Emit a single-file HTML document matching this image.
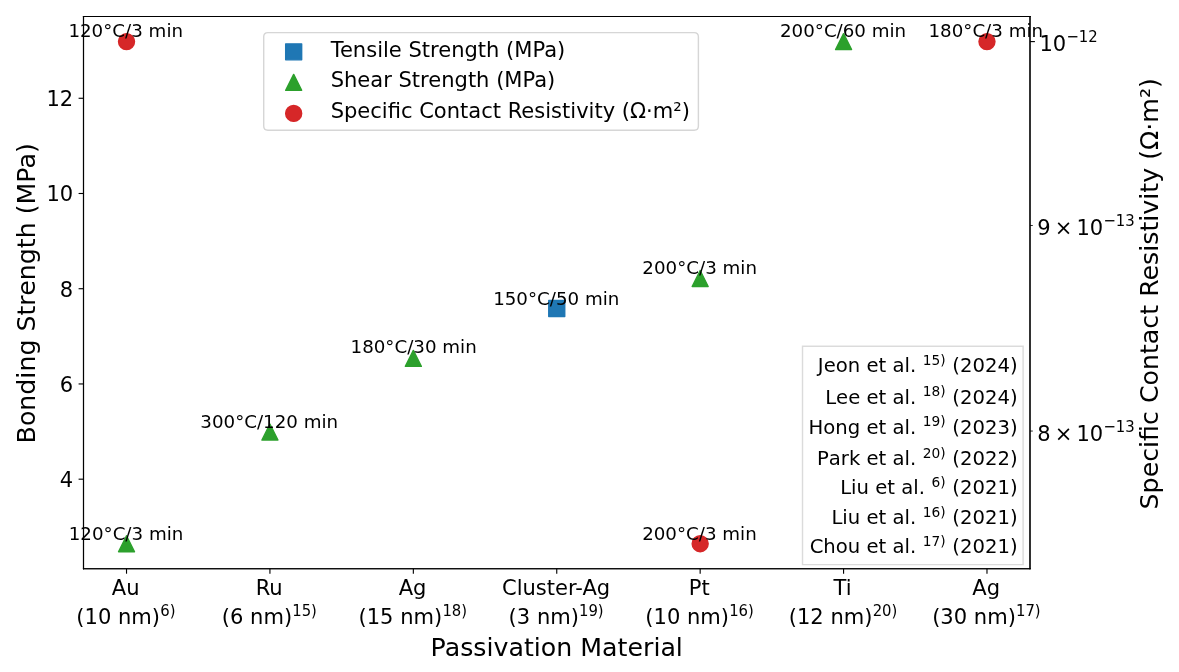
<!DOCTYPE html>
<html lang="en">
<head>
<meta charset="utf-8">
<title>Bonding Strength and Specific Contact Resistivity by Passivation Material</title>
<style>
html,body{margin:0;padding:0;background:#fff;}
body{width:1179px;height:672px;overflow:hidden;}
svg{display:block;}
svg text{font-family:"DejaVu Sans","Liberation Sans",sans-serif;fill:#000;white-space:pre;}
svg text.m{font-kerning:none;}
</style>
</head>
<body>
<svg width="1179" height="672" viewBox="0 0 1179 672" role="img" aria-label="Scatter chart of bonding strength and specific contact resistivity by passivation material">
<path d="M 0 672 L 1179 672 L 1179 0 L 0 0 z" fill="#ffffff"/>
<path d="M 83.5 568.8 L 1030 568.8 L 1030 16.5 L 83.5 16.5 z" fill="#ffffff"/>
<path d="M 548.75 316.48 L 564.75 316.48 L 564.75 300.48 L 548.75 300.48 z" fill="#1f77b4" stroke="#1f77b4" stroke-width="1.4" stroke-linejoin="round"/>
<path d="M 126.52 535.7 L 118.53 551.69 L 134.52 551.69 z" fill="#2ca02c" stroke="#2ca02c" stroke-width="1.4" stroke-linejoin="round"/>
<path d="M 269.93 424.04 L 261.93 440.04 L 277.93 440.04 z" fill="#2ca02c" stroke="#2ca02c" stroke-width="1.4" stroke-linejoin="round"/>
<path d="M 413.34 350.38 L 405.34 366.38 L 421.34 366.38 z" fill="#2ca02c" stroke="#2ca02c" stroke-width="1.4" stroke-linejoin="round"/>
<path d="M 700.16 270.49 L 692.16 286.48 L 708.16 286.48 z" fill="#2ca02c" stroke="#2ca02c" stroke-width="1.4" stroke-linejoin="round"/>
<path d="M 843.57 33.61 L 835.57 49.6 L 851.57 49.6 z" fill="#2ca02c" stroke="#2ca02c" stroke-width="1.4" stroke-linejoin="round"/>
<path d="M 126.52 568.8 L 126.52 573.71" stroke="#000000" stroke-width="1.12" stroke-linejoin="round"/>
<text x="111.81" y="594.52" font-size="21.04">Au</text>
<text font-size="21.04" class="m"><tspan x="76.36 84.57 97.96 111.34 118.03 131.37 151.86" y="624.09">(10 nm)</tspan><tspan x="160.28 169.65" y="616.03" font-size="16.5" font-stretch="condensed">6)</tspan></text>
<path d="M 269.93 568.8 L 269.93 573.71" stroke="#000000" stroke-width="1.12" stroke-linejoin="round"/>
<text x="255.66" y="594.52" font-size="21.04">Ru</text>
<text font-size="21.04" class="m"><tspan x="221.77 229.98 243.37 250.06 263.39 283.89" y="624.09">(6 nm)</tspan><tspan x="292.3 301.67 311.04" y="616.03" font-size="16.5" font-stretch="condensed">15)</tspan></text>
<path d="M 413.34 568.8 L 413.34 573.71" stroke="#000000" stroke-width="1.12" stroke-linejoin="round"/>
<text x="398.63" y="594.52" font-size="21.04">Ag</text>
<text font-size="21.04" class="m"><tspan x="358.5 366.71 380.1 393.48 400.17 413.51 434.01" y="624.09">(15 nm)</tspan><tspan x="442.42 451.79 461.16" y="616.03" font-size="16.5" font-stretch="condensed">18)</tspan></text>
<path d="M 556.75 568.8 L 556.75 573.71" stroke="#000000" stroke-width="1.12" stroke-linejoin="round"/>
<text x="501.98" y="594.52" font-size="21.04">Cluster-Ag</text>
<text font-size="21.04" class="m"><tspan x="508.59 516.8 530.19 536.88 550.21 570.71" y="624.09">(3 nm)</tspan><tspan x="579.12 588.49 597.86" y="616.03" font-size="16.5" font-stretch="condensed">19)</tspan></text>
<path d="M 700.16 568.8 L 700.16 573.71" stroke="#000000" stroke-width="1.12" stroke-linejoin="round"/>
<text x="688.82" y="594.52" font-size="21.04">Pt</text>
<text font-size="21.04" class="m"><tspan x="645.32 653.53 666.92 680.3 686.99 700.33 720.82" y="624.09">(10 nm)</tspan><tspan x="729.24 738.61 747.98" y="616.03" font-size="16.5" font-stretch="condensed">16)</tspan></text>
<path d="M 843.57 568.8 L 843.57 573.71" stroke="#000000" stroke-width="1.12" stroke-linejoin="round"/>
<text x="833.54" y="594.52" font-size="21.04">Ti</text>
<text font-size="21.04" class="m"><tspan x="788.73 796.94 810.32 823.71 830.4 843.74 864.23" y="624.09">(12 nm)</tspan><tspan x="872.64 882.02 891.39" y="616.03" font-size="16.5" font-stretch="condensed">20)</tspan></text>
<path d="M 986.98 568.8 L 986.98 573.71" stroke="#000000" stroke-width="1.12" stroke-linejoin="round"/>
<text x="972.26" y="594.52" font-size="21.04">Ag</text>
<text font-size="21.04" class="m"><tspan x="932.14 940.35 953.73 967.12 973.81 987.15 1007.64" y="624.09">(30 nm)</tspan><tspan x="1016.05 1025.42 1034.8" y="616.03" font-size="16.5" font-stretch="condensed">17)</tspan></text>
<text x="556.75" y="655.91" font-size="25.25" text-anchor="middle">Passivation Material</text>
<path d="M 83.5 479.18 L 78.59 479.18" stroke="#000000" stroke-width="1.12" stroke-linejoin="round"/>
<text x="73.18" y="487.18" font-size="21.04" text-anchor="end">4</text>
<path d="M 83.5 383.95 L 78.59 383.95" stroke="#000000" stroke-width="1.12" stroke-linejoin="round"/>
<text x="73.18" y="391.95" font-size="21.04" text-anchor="end">6</text>
<path d="M 83.5 288.72 L 78.59 288.72" stroke="#000000" stroke-width="1.12" stroke-linejoin="round"/>
<text x="73.18" y="296.72" font-size="21.04" text-anchor="end">8</text>
<path d="M 83.5 193.49 L 78.59 193.49" stroke="#000000" stroke-width="1.12" stroke-linejoin="round"/>
<text x="73.18" y="201.49" font-size="21.04" text-anchor="end">10</text>
<path d="M 83.5 98.27 L 78.59 98.27" stroke="#000000" stroke-width="1.12" stroke-linejoin="round"/>
<text x="73.18" y="106.27" font-size="21.04" text-anchor="end">12</text>
<text x="34.69" y="293.35" font-size="25.25" text-anchor="middle" transform="rotate(-90 34.69 293.35)">Bonding Strength (MPa)</text>
<path d="M 83.5 568.8 L 83.5 16.5" fill="none" stroke="#000000" stroke-width="1.12" stroke-linejoin="miter" stroke-linecap="square"/>
<path d="M 1030 568.8 L 1030 16.5" fill="none" stroke="#000000" stroke-width="1.12" stroke-linejoin="miter" stroke-linecap="square"/>
<path d="M 83.5 568.8 L 1030 568.8" fill="none" stroke="#000000" stroke-width="1.12" stroke-linejoin="miter" stroke-linecap="square"/>
<path d="M 83.5 16.5 L 1030 16.5" fill="none" stroke="#000000" stroke-width="1.12" stroke-linejoin="miter" stroke-linecap="square"/>
<text x="126.02" y="540" font-size="18.24" text-anchor="middle">120°C/3 min</text>
<text x="269.23" y="428.24" font-size="18.24" text-anchor="middle">300°C/120 min</text>
<text x="413.64" y="353.38" font-size="18.24" text-anchor="middle">180°C/30 min</text>
<text x="556.25" y="305.13" font-size="18.24" text-anchor="middle">150°C/50 min</text>
<text x="699.66" y="274.28" font-size="18.24" text-anchor="middle">200°C/3 min</text>
<text x="843.07" y="36.6" font-size="18.24" text-anchor="middle">200°C/60 min</text>
<path d="M 267.9 130.3 L 694.2 130.3 Q 698.4 130.3 698.4 126.1 L 698.4 36.8 Q 698.4 32.6 694.2 32.6 L 267.9 32.6 Q 263.7 32.6 263.7 36.8 L 263.7 126.1 Q 263.7 130.3 267.9 130.3 z" fill="#ffffff" stroke="#cccccc" stroke-width="1.4" stroke-linejoin="miter" opacity="0.8"/>
<path d="M 285.68 59.83 L 301.67 59.83 L 301.67 43.84 L 285.68 43.84 z" fill="#1f77b4" stroke="#1f77b4" stroke-width="1.4" stroke-linejoin="round"/>
<text x="330.65" y="56.96" font-size="21.04">Tensile Strength (MPa)</text>
<path d="M 293.68 74.36 L 285.68 90.35 L 301.67 90.35 z" fill="#2ca02c" stroke="#2ca02c" stroke-width="1.4" stroke-linejoin="round"/>
<text x="330.65" y="87.48" font-size="21.04">Shear Strength (MPa)</text>
<path d="M 293.68 121.38 C 295.8 121.38 297.83 120.53 299.33 119.03 C 300.83 117.53 301.67 115.5 301.67 113.38 C 301.67 111.26 300.83 109.22 299.33 107.72 C 297.83 106.22 295.8 105.38 293.68 105.38 C 291.55 105.38 289.52 106.22 288.02 107.72 C 286.52 109.22 285.68 111.26 285.68 113.38 C 285.68 115.5 286.52 117.53 288.02 119.03 C 289.52 120.53 291.55 121.38 293.68 121.38 z" fill="#d62728" stroke="#d62728" stroke-width="1.4" stroke-linejoin="round"/>
<text x="330.65" y="118" font-size="21.04">Specific Contact Resistivity (Ω·m²)</text>
<path d="M 126.52 49.6 C 128.64 49.6 130.68 48.76 132.18 47.26 C 133.68 45.76 134.52 43.73 134.52 41.6 C 134.52 39.48 133.68 37.45 132.18 35.95 C 130.68 34.45 128.64 33.61 126.52 33.61 C 124.4 33.61 122.37 34.45 120.87 35.95 C 119.37 37.45 118.53 39.48 118.53 41.6 C 118.53 43.73 119.37 45.76 120.87 47.26 C 122.37 48.76 124.4 49.6 126.52 49.6 z" fill="#d62728" stroke="#d62728" stroke-width="1.4" stroke-linejoin="round"/>
<path d="M 700.16 551.69 C 702.28 551.69 704.31 550.85 705.81 549.35 C 707.31 547.85 708.16 545.82 708.16 543.7 C 708.16 541.57 707.31 539.54 705.81 538.04 C 704.31 536.54 702.28 535.7 700.16 535.7 C 698.04 535.7 696 536.54 694.5 538.04 C 693 539.54 692.16 541.57 692.16 543.7 C 692.16 545.82 693 547.85 694.5 549.35 C 696 550.85 698.04 551.69 700.16 551.69 z" fill="#d62728" stroke="#d62728" stroke-width="1.4" stroke-linejoin="round"/>
<path d="M 986.98 49.6 C 989.1 49.6 991.13 48.76 992.63 47.26 C 994.13 45.76 994.97 43.73 994.97 41.6 C 994.97 39.48 994.13 37.45 992.63 35.95 C 991.13 34.45 989.1 33.61 986.98 33.61 C 984.86 33.61 982.82 34.45 981.32 35.95 C 979.82 37.45 978.98 39.48 978.98 41.6 C 978.98 43.73 979.82 45.76 981.32 47.26 C 982.82 48.76 984.86 49.6 986.98 49.6 z" fill="#d62728" stroke="#d62728" stroke-width="1.4" stroke-linejoin="round"/>
<path d="M 1030 41.6 L 1034.91 41.6" stroke="#000000" stroke-width="1.12" stroke-linejoin="round"/>
<text font-size="21.04" class="m"><tspan x="1039.47 1052.86" y="50.96">10</tspan><tspan x="1066.45 1078.79 1088.16" y="42.01" font-size="16.5" font-stretch="condensed">−12</tspan></text>
<path d="M 1030 431.06 L 1032.81 431.06" stroke="#000000" stroke-width="0.84" stroke-linejoin="round"/>
<text font-size="21.04" class="m"><tspan x="1037.23 1054.71 1076.44 1089.83" y="440.61">8×10</tspan><tspan x="1103.42 1115.76 1125.13" y="431.71" font-size="16.5" font-stretch="condensed">−13</tspan></text>
<path d="M 1030 225.49 L 1032.81 225.49" stroke="#000000" stroke-width="0.84" stroke-linejoin="round"/>
<text font-size="21.04" class="m"><tspan x="1037.23 1054.71 1076.44 1089.83" y="235.05">9×10</tspan><tspan x="1103.42 1115.76 1125.13" y="226.14" font-size="16.5" font-stretch="condensed">−13</tspan></text>
<text x="1158.37" y="293.75" font-size="25.25" text-anchor="middle" transform="rotate(-90 1158.37 293.75)">Specific Contact Resistivity (Ω·m²)</text>
<path d="M 83.5 568.8 L 83.5 16.5" fill="none" stroke="#000000" stroke-width="1.12" stroke-linejoin="miter" stroke-linecap="square"/>
<path d="M 1030 568.8 L 1030 16.5" fill="none" stroke="#000000" stroke-width="1.12" stroke-linejoin="miter" stroke-linecap="square"/>
<path d="M 83.5 568.8 L 1030 568.8" fill="none" stroke="#000000" stroke-width="1.12" stroke-linejoin="miter" stroke-linecap="square"/>
<path d="M 83.5 16.5 L 1030 16.5" fill="none" stroke="#000000" stroke-width="1.12" stroke-linejoin="miter" stroke-linecap="square"/>
<text x="125.72" y="36.8" font-size="18.24" text-anchor="middle">120°C/3 min</text>
<text x="699.46" y="539.7" font-size="18.24" text-anchor="middle">200°C/3 min</text>
<text x="985.78" y="36.7" font-size="18.24" text-anchor="middle">180°C/3 min</text>
<path d="M 802.5 564.6 L 1023.1 564.6 L 1023.1 346.2 L 802.5 346.2 z" fill="#ffffff" stroke="#d3d3d3" stroke-width="1.4" stroke-linejoin="miter" opacity="0.8"/>
<text font-size="19.64" class="m"><tspan x="817.87 823.66 835.74 847.76 860.21 866.45 878.53 886.23 892.48 904.51 909.97 916.21" y="372.41">Jeon et al. </tspan><tspan x="922.64 931.39 940.13" y="365.09" font-size="13.75">15)</tspan><tspan x="946.03 952.28 959.94 972.43 984.93 997.42 1009.92" y="372.41"> (2024)</tspan></text>
<text font-size="19.64" class="m"><tspan x="825.16 836.1 848.18 860.26 866.51 878.59 886.29 892.53 904.57 910.02 916.27" y="403.75">Lee et al. </tspan><tspan x="922.7 931.44 940.19" y="396.43" font-size="13.75">18)</tspan><tspan x="946.09 952.33 959.99 972.49 984.98 997.48 1009.97" y="403.75"> (2024)</tspan></text>
<text font-size="19.64" class="m"><tspan x="808.58 823.35 835.36 847.81 860.28 866.52 878.6 886.3 892.54 904.58 910.04 916.28" y="433.79">Hong et al. </tspan><tspan x="922.71 931.45 940.2" y="426.47" font-size="13.75">19)</tspan><tspan x="946.1 952.34 960.01 972.5 985 997.49 1009.99" y="433.79"> (2023)</tspan></text>
<text font-size="19.64" class="m"><tspan x="816.95 828.79 840.82 848.9 860.27 866.51 878.6 886.3 892.54 904.57 910.03 916.27" y="464.83">Park et al. </tspan><tspan x="922.7 931.45 940.2" y="457.51" font-size="13.75">20)</tspan><tspan x="946.1 952.34 960 972.5 984.99 997.48 1009.98" y="464.83"> (2022)</tspan></text>
<text font-size="19.64" class="m"><tspan x="840.16 851.1 856.55 869 875.24 887.33 895.03 901.27 913.3 918.76 925" y="494.47">Liu et al. </tspan><tspan x="931.43 940.18" y="487.15" font-size="13.75">6)</tspan><tspan x="946.08 952.32 959.98 972.48 984.97 997.47 1009.96" y="494.47"> (2021)</tspan></text>
<text font-size="19.64" class="m"><tspan x="831.42 842.36 847.81 860.26 866.5 878.59 886.29 892.53 904.56 910.02 916.26" y="524.21">Liu et al. </tspan><tspan x="922.69 931.44 940.19" y="516.89" font-size="13.75">16)</tspan><tspan x="946.09 952.33 959.99 972.48 984.98 997.47 1009.97" y="524.21"> (2021)</tspan></text>
<text font-size="19.64" class="m"><tspan x="809.65 823.37 835.81 847.83 860.28 866.52 878.6 886.3 892.54 904.58 910.03 916.28" y="553.15">Chou et al. </tspan><tspan x="922.71 931.45 940.2" y="545.83" font-size="13.75">17)</tspan><tspan x="946.1 952.34 960.01 972.5 985 997.49 1009.98" y="553.15"> (2021)</tspan></text>
</svg>
</body>
</html>
